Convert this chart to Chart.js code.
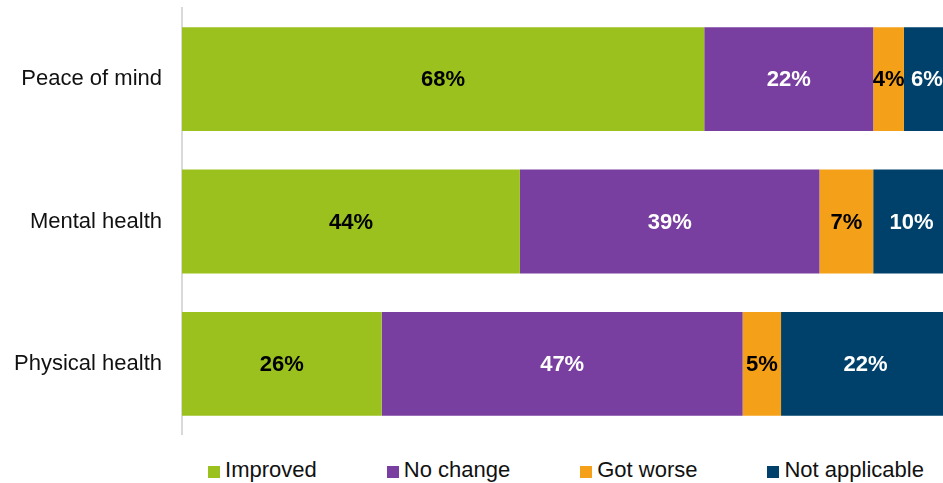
<!DOCTYPE html>
<html>
<head>
<meta charset="utf-8">
<script src="https://cdn.jsdelivr.net/npm/chart.js@4"></script>
<style>
  html, body { margin: 0; padding: 0; background: #fff; overflow: hidden; }
  body { width: 943px; height: 483px; position: relative; font-family: "Liberation Sans", Arial, sans-serif; }
  #wrap { position: absolute; left: 0; top: 0; width: 950px; height: 435px; }
  #legend { position: absolute; left: 182px; width: 768px; top: 460px; display: flex; justify-content: center; gap: 70px; font-size: 22px; line-height: 20px; color: #111; }
  #legend .item { display: flex; align-items: center; white-space: nowrap; }
  #legend .box { width: 12px; height: 12px; margin-right: 5px; position: relative; top: 2px; }
</style>
</head>
<body>
<div id="wrap"><canvas id="chart"></canvas></div>
<div id="legend"></div>
<script>
const categories = ['Peace of mind', 'Mental health', 'Physical health'];
const seriesNames = ['Improved', 'No change', 'Got worse', 'Not applicable'];
const improved = [68, 44, 26];
const noChange = [22, 39, 47];
const gotWorse = [4, 7, 5];
const notApplicable = [6, 10, 22];

const colors = ['#9BC11F', '#783FA0', '#F4A019', '#00416B'];
const labelColors = ['#000', '#fff', '#000', '#fff'];

const FONT = '"Liberation Sans", Arial, sans-serif';

const datasets = [improved, noChange, gotWorse, notApplicable].map((data, i) => ({
  label: seriesNames[i],
  data,
  backgroundColor: colors[i],
  borderWidth: 0,
  categoryPercentage: 1,
  barPercentage: 0.73
}));

// percentage text in the middle of each segment
const segmentLabels = {
  id: 'segmentLabels',
  afterDatasetsDraw(chart) {
    const ctx = chart.ctx;
    ctx.save();
    ctx.font = 'bold 22px ' + FONT;
    ctx.textAlign = 'center';
    ctx.textBaseline = 'middle';
    chart.data.datasets.forEach((ds, i) => {
      chart.getDatasetMeta(i).data.forEach((bar, j) => {
        const x = (bar.x + bar.base) / 2;
        ctx.fillStyle = labelColors[i];
        ctx.fillText(ds.data[j] + '%', x, bar.y + 1);
      });
    });
    ctx.restore();
  }
};

new Chart(document.getElementById('chart').getContext('2d'), {
  type: 'bar',
  data: { labels: categories, datasets },
  options: {
    indexAxis: 'y',
    responsive: true,
    maintainAspectRatio: false,
    animation: false,
    layout: { padding: { top: 8, right: 0, bottom: 0, left: 0 } },
    plugins: {
      legend: { display: false },
      tooltip: { enabled: false }
    },
    scales: {
      x: { stacked: true, min: 0, max: 100, display: false },
      y: {
        stacked: true,
        grid: { display: false, drawTicks: false },
        border: { display: true, color: '#d9d9d9', width: 2 },
        ticks: { color: '#111', font: { family: FONT, size: 22 }, padding: 20 },
        afterFit(scale) {
          // fixed label column, no extra top/bottom room for the tick labels
          scale.width = 182;
          scale.paddingTop = 0;
          scale.paddingBottom = 0;
        }
      }
    }
  },
  plugins: [segmentLabels]
});

const legend = document.getElementById('legend');
legend.innerHTML = seriesNames.map((name, i) =>
  `<div class="item"><span class="box" style="background:${colors[i]}"></span>${name}</div>`
).join('');
</script>
</body>
</html>
